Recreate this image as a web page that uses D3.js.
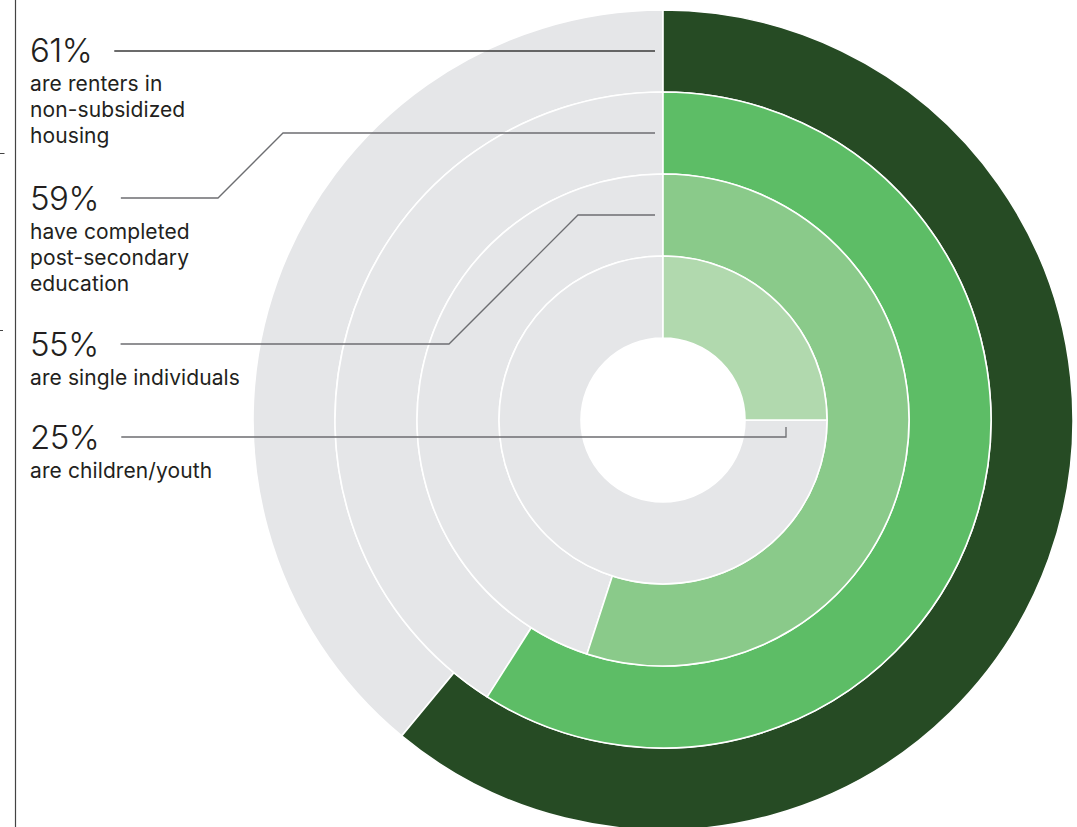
<!DOCTYPE html>
<html>
<head>
<meta charset="utf-8">
<script src="https://cdn.jsdelivr.net/npm/d3@7"></script>
<style>
  html, body { margin: 0; padding: 0; background: #fff; }
  svg { display: block; }
  text { font-family: Inter, "Noto Sans", sans-serif; fill: #231f20; }
</style>
</head>
<body>
<svg id="chart" width="1077" height="827"></svg>
<script>
// Ring values, outermost first
const percents = [61, 59, 55, 25];
const valueLabels = ["61%", "59%", "55%", "25%"];
const descriptions = [
  ["are renters in", "non-subsidized", "housing"],
  ["have completed", "post-secondary", "education"],
  ["are single individuals"],
  ["are children/youth"]
];
const ringColors = ["#264b24", "#5dbd66", "#8aca8a", "#b1d9ae"];
const restColor = "#e5e6e8";

// Layout
const W = 1077, H = 827;
const cx = 663, cy = 420;
const innerR = 82, outerR = 410;
const labelX = 30;
const labelY = [50, 198, 344, 437];   // vertical centre of each percentage
const elbowX = [null, 218, 449, null]; // where a callout turns diagonally

const svg = d3.select("#chart");

// Side rule with small tick marks
svg.append("line").attr("x1", 15.5).attr("x2", 15.5).attr("y1", 0).attr("y2", H)
  .attr("stroke", "#444").attr("stroke-width", 1.2);
[153.5, 330.5].forEach((y, i) => {
  svg.append("line").attr("x1", 0).attr("x2", i ? 3 : 4.5).attr("y1", y).attr("y2", y)
    .attr("stroke", "#444").attr("stroke-width", 1);
});

const angle = d3.scaleLinear().domain([0, 100]).range([0, 2 * Math.PI]);
const ringIdx = d3.range(percents.length);
const radius = d3.scaleLinear().domain([0, percents.length]).range([outerR, innerR]);

const arc = d3.arc();
const g = svg.append("g").attr("transform", `translate(${cx},${cy})`);

ringIdx.forEach(i => {
  const ro = radius(i), ri = radius(i + 1);
  // remainder of the ring
  g.append("path")
    .attr("d", arc({ innerRadius: ri, outerRadius: ro, startAngle: angle(percents[i]), endAngle: angle(100) }))
    .attr("fill", restColor).attr("stroke", "#fff").attr("stroke-width", 1.6);
  // share
  g.append("path")
    .attr("d", arc({ innerRadius: ri, outerRadius: ro, startAngle: 0, endAngle: angle(percents[i]) }))
    .attr("fill", ringColors[i]).attr("stroke", "#fff").attr("stroke-width", 1.6);
});

// Labels and callouts
ringIdx.forEach(i => {
  const yc = labelY[i];
  const pct = svg.append("text")
    .attr("x", labelX).attr("y", yc + 12)
    .attr("font-size", 33).attr("font-weight", 300)
    .attr("letter-spacing", -0.5)
    .text(valueLabels[i]);
  const pctEnd = labelX + pct.node().getComputedTextLength();

  svg.append("text")
    .attr("x", labelX).attr("y", yc + 41)
    .attr("font-size", 21).attr("font-weight", 400)
    .attr("letter-spacing", 0.1)
    .selectAll("tspan").data(descriptions[i]).join("tspan")
    .attr("x", labelX).attr("dy", (d, j) => j ? 26 : 0)
    .text(d => d);

  const midR = (radius(i) + radius(i + 1)) / 2;
  const x0 = pctEnd + 22;
  let pts;
  if (i === percents.length - 1) {
    // point to the end of the innermost share, just under its edge
    const ex = cx + midR * Math.sin(angle(percents[i]));
    const ey = cy - midR * Math.cos(angle(percents[i]));
    pts = [[x0, yc], [ex, yc], [ex, ey + 7]];
  } else {
    const ty = cy - midR, tx = cx - 8;
    if (elbowX[i] == null) {
      pts = [[x0, ty], [tx, ty]];
    } else {
      const dy = yc - ty;
      pts = [[x0, yc], [elbowX[i], yc], [elbowX[i] + dy, ty], [tx, ty]];
    }
  }
  svg.append("path")
    .attr("d", d3.line()(pts))
    .attr("fill", "none").attr("stroke", i === 0 ? "#3a3a3a" : "#6d6e71").attr("stroke-width", 1.3);
});
</script>
</body>
</html>
